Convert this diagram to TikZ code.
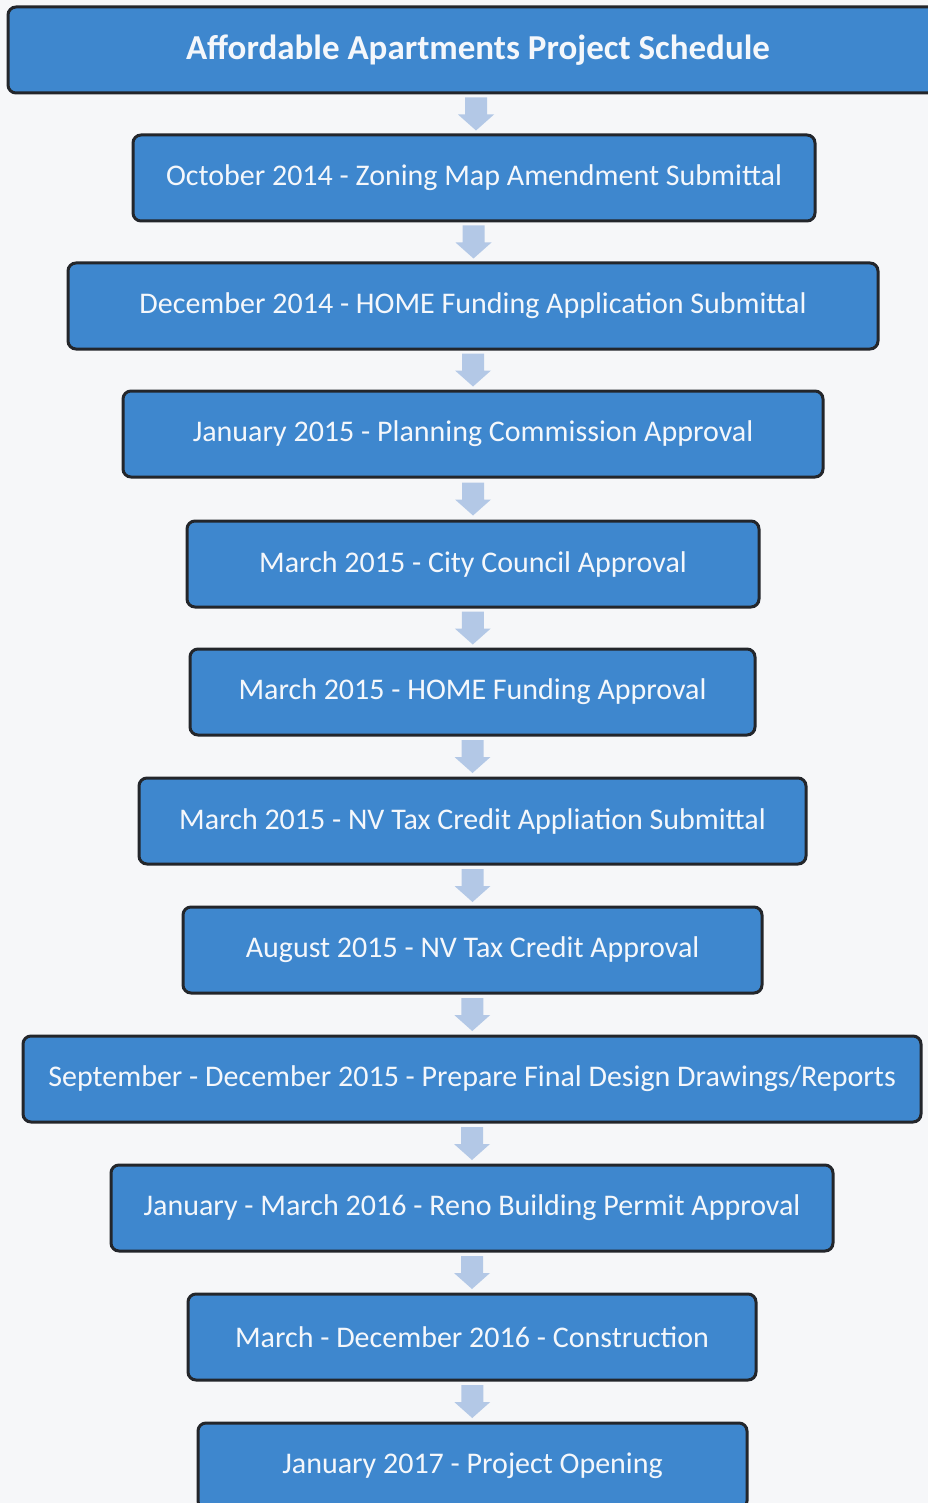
\documentclass[tikz,border=0pt]{standalone}
\usepackage{fontspec}
\setmainfont{Carlito}
\usetikzlibrary{calc}
\definecolor{boxblue}{HTML}{3E87CE}
\definecolor{arrowblue}{HTML}{B3C8E6}
\definecolor{edgedark}{HTML}{23262B}
\definecolor{paper}{HTML}{F6F7F9}
\definecolor{txt}{HTML}{F4F7FB}
\tikzset{
  stagebox/.style={draw=edgedark, line width=3pt, fill=boxblue, rounded corners=8pt,
    minimum height=86pt, inner sep=0pt, text=txt, font=\fontsize{30}{33}\selectfont},
  titlebox/.style={stagebox, font=\bfseries\fontsize{35}{38}\selectfont},
  downarrow/.style={fill=arrowblue, draw=none}
}
\begin{document}
\begin{tikzpicture}[x=1pt,y=-1pt]
\fill[paper] (0,0) rectangle (928,1503);
\useasboundingbox (0,0) rectangle (928,1503);
\node[titlebox, minimum width=940pt] (t) at (478,50) {Affordable Apartments Project Schedule};
\node[stagebox, minimum width=682pt] (b1) at (474,178) {October 2014 - Zoning Map Amendment Submittal};
\node[stagebox, minimum width=810pt] (b2) at (473,306) {December 2014 - HOME Funding Application Submittal};
\node[stagebox, minimum width=700pt] (b3) at (473,434) {January 2015 - Planning Commission Approval};
\node[stagebox, minimum width=572pt] (b4) at (473,564) {March 2015 - City Council Approval};
\node[stagebox, minimum width=565pt] (b5) at (472.5,692) {March 2015 - HOME Funding Approval};
\node[stagebox, minimum width=667pt] (b6) at (472.5,821) {March 2015 - NV Tax Credit Appliation Submittal};
\node[stagebox, minimum width=579pt] (b7) at (472.5,950) {August 2015 - NV Tax Credit Approval};
\node[stagebox, minimum width=898pt] (b8) at (472,1079) {September - December 2015 - Prepare Final Design Drawings/Reports};
\node[stagebox, minimum width=722pt] (b9) at (472,1208) {January - March 2016 - Reno Building Permit Approval};
\node[stagebox, minimum width=568pt] (b10) at (472,1337) {March - December 2016 - Construction};
\node[stagebox, minimum width=549pt] (b11) at (472.5,1466) {January 2017 - Project Opening};
\foreach \a/\b [count=\i] in {t/b1,b1/b2,b2/b3,b3/b4,b4/b5,b5/b6,b6/b7,b7/b8,b8/b9,b9/b10,b10/b11}{
  \coordinate (m\i) at ($(\a.south)!0.5!(\b.north)$);
  \fill[downarrow] ($(m\i)+(-11,-16.5)$) -- ++(22,0) -- ++(0,17) -- ++(7,0)
    -- ($(m\i)+(0,16.5)$) -- ($(m\i)+(-18,0.5)$) -- ++(7,0) -- cycle;
}
\end{tikzpicture}
\end{document}
